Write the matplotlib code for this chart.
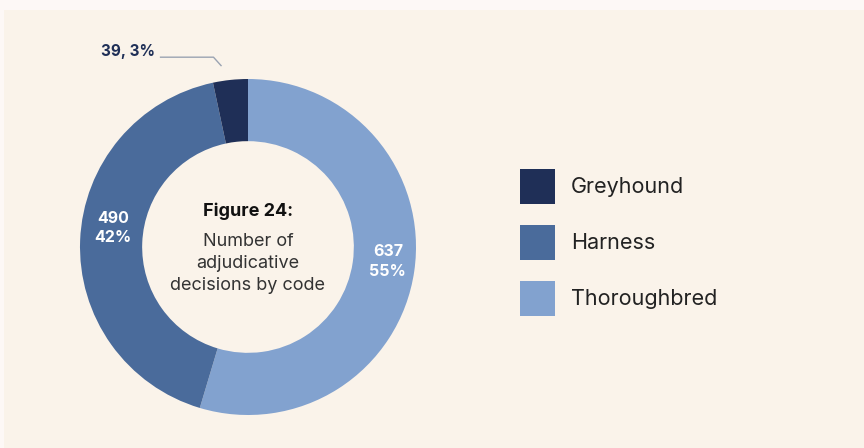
import numpy as np
import matplotlib
matplotlib.use("Agg")
import matplotlib.pyplot as plt
from matplotlib.patches import Rectangle

categories = ["Thoroughbred", "Harness", "Greyhound"]
values = [637, 490, 39]
legend_order = ["Greyhound", "Harness", "Thoroughbred"]
colors = {"Greyhound": "#1f2f57", "Harness": "#4a6b9b", "Thoroughbred": "#82a2cf"}

plt.rcParams['font.family'] = ['Inter', 'DejaVu Sans']

W, H = 864, 448
fig = plt.figure(figsize=(W / 100, H / 100), dpi=100)
fig.patch.set_facecolor("#fdf8f6")
fig.patches.append(Rectangle((4 / W, 0), 1, (H - 10) / H, transform=fig.transFigure,
                             facecolor="#faf3ea", edgecolor="none", zorder=-10))

cx, cy, R = 248, 247, 168
ax = fig.add_axes([(cx - R) / W, (H - cy - R) / H, 2 * R / W, 2 * R / H])
ax.set_facecolor("none")
wedges, _ = ax.pie(values, colors=[colors[c] for c in categories], startangle=90,
                   counterclock=False, radius=1.0,
                   wedgeprops=dict(width=0.37, edgecolor="none"))
ax.set_xlim(-1, 1)
ax.set_ylim(-1, 1)
ax.set_aspect("equal")
ax.axis("off")

label_adjust = {"Thoroughbred": (2.4, 0.837), "Harness": (-5.8, 0.81)}

total = sum(values)
for w, cat, v in zip(wedges, categories, values):
    pct = round(100 * v / total)
    if cat == "Greyhound":
        ang = np.deg2rad(w.theta2 - 0.35 * (w.theta2 - w.theta1))
        p1 = (1.09 * np.cos(ang) - 0.012, 1.09 * np.sin(ang))
        p2 = (p1[0] - 0.045, p1[1] + 0.05)
        p3 = (p2[0] - 0.315, p2[1])
        ax.plot([p1[0], p2[0], p3[0]], [p1[1], p2[1], p3[1]], color="#9aa3b2",
                lw=1.0, clip_on=False)
        ax.text(p3[0] - 0.035, p3[1] + 0.035, f"{v}, {pct}%", ha="right", va="center",
                fontsize=11, fontweight="bold", color="#1f2f57")
    else:
        dang, r = label_adjust[cat]
        mid = np.deg2rad((w.theta1 + w.theta2) / 2 + dang)
        ax.text(r * np.cos(mid), r * np.sin(mid),
                f"{v}\n{pct}%", ha="center", va="center", fontsize=11.5,
                fontweight="bold", color="white", linespacing=1.35)

ax.text(0, 0.21, "Figure 24:", ha="center", va="center", fontsize=13,
        fontweight="bold", color="#111111")
ax.text(0, -0.1, "Number of\nadjudicative\ndecisions by code", ha="center", va="center",
        fontsize=13, color="#333333", linespacing=1.38)

# legend
for i, cat in enumerate(legend_order):
    top = 169 + i * 56
    fig.patches.append(Rectangle((520 / W, (H - top - 35) / H), 35 / W, 35 / H,
                                 transform=fig.transFigure, facecolor=colors[cat],
                                 edgecolor="none"))
    fig.text(571 / W, (H - top - 18) / H, cat, ha="left", va="center", fontsize=15.5,
             color="#222222")

fig.savefig("out.png", dpi=100, facecolor=fig.get_facecolor())
